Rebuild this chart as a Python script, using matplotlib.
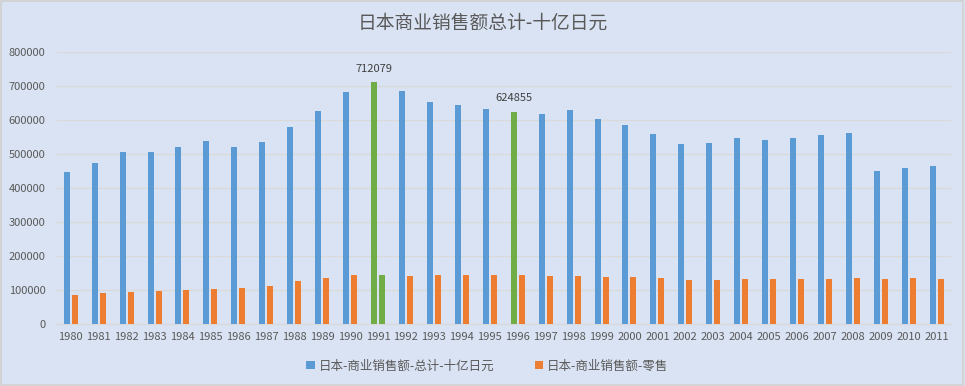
import matplotlib
matplotlib.use("Agg")
import matplotlib.pyplot as plt
import numpy as np

plt.rcParams['font.family'] = ['Noto Sans CJK SC', 'DejaVu Sans']

title = "日本商业销售额总计-十亿日元"
years = [str(y) for y in range(1980, 2012)]
total = [447500, 474000, 506000, 506000, 521000, 539000, 521000, 536000, 580000, 627000,
         683000, 712079, 686000, 653600, 644700, 633000, 624855, 618000, 630000, 603500,
         585900, 559400, 530000, 532900, 547600, 541700, 547600, 556400, 562300, 450400,
         459300, 465200]
retail = [85400, 91300, 94200, 97200, 100100, 103000, 106000, 111900, 126600, 135400,
          144300, 144300, 141300, 144300, 144300, 144300, 144300, 141300, 141300, 138400,
          138400, 135400, 129500, 129500, 132500, 132500, 132500, 132500, 135400, 132500,
          135400, 132500]
total_name = "日本-商业销售额-总计-十亿日元"
retail_name = "日本-商业销售额-零售"
total_highlight = ["1991", "1996"]
retail_highlight = ["1991"]
labeled = ["1991", "1996"]
yticks = [0, 100000, 200000, 300000, 400000, 500000, 600000, 700000, 800000]

BG = "#DAE3F3"
BLUE = "#5B9BD5"
ORANGE = "#ED7D31"
GREEN = "#70AD47"
GRID = "#D9D9D9"
TXT = "#595959"

fig = plt.figure(figsize=(9.65, 3.86), dpi=100, facecolor=BG)
ax = fig.add_axes([0.0588, 0.1606, 0.9264, 0.7039], facecolor=BG)

x = np.arange(len(years))
w = 0.215
off = 0.143
c_total = [GREEN if y in total_highlight else BLUE for y in years]
c_retail = [GREEN if y in retail_highlight else ORANGE for y in years]
ax.bar(x - off, total, width=w, color=c_total, zorder=3, label=total_name)
ax.bar(x + off, retail, width=w, color=c_retail, zorder=3, label=retail_name)

for i, y in enumerate(years):
    if y in labeled:
        ax.annotate(str(total[i]), (x[i] - off, total[i]), xytext=(0, 6),
                    textcoords="offset points", ha="center", va="bottom",
                    fontsize=8, color="#404040")

ax.set_xlim(-0.5, len(years) - 0.5)
ax.set_ylim(0, 800000)
ax.set_yticks(yticks)
ax.set_yticklabels([str(v) for v in yticks])
ax.set_xticks(x)
ax.set_xticklabels(years)
ax.tick_params(axis='both', length=0, labelsize=8, colors=TXT)
ax.tick_params(axis='x', pad=6)
ax.tick_params(axis='y', pad=8)
ax.grid(axis='y', color=GRID, linewidth=0.9, zorder=0)
ax.set_axisbelow(True)
for s in ['top', 'right', 'left']:
    ax.spines[s].set_visible(False)
ax.spines['bottom'].set_color(GRID)
ax.spines['bottom'].set_linewidth(0.9)

fig.text(0.5, 0.94, title, ha='center', va='center', fontsize=13.5, color=TXT)

from matplotlib.patches import Patch
handles = [Patch(facecolor=BLUE), Patch(facecolor=ORANGE)]
fig.legend(handles, [total_name, retail_name], loc='center', bbox_to_anchor=(0.505, 0.052),
           ncol=2, frameon=False, fontsize=9, labelcolor=TXT, handlelength=0.7,
           handleheight=0.7, handletextpad=0.3, columnspacing=3.2)

fig.patches.append(plt.Rectangle((0.001, 0.002), 0.997, 0.995, transform=fig.transFigure,
                                 fill=False, edgecolor="#D0D0D0", linewidth=1.2))

fig.savefig("out.png", dpi=100, facecolor=BG)
